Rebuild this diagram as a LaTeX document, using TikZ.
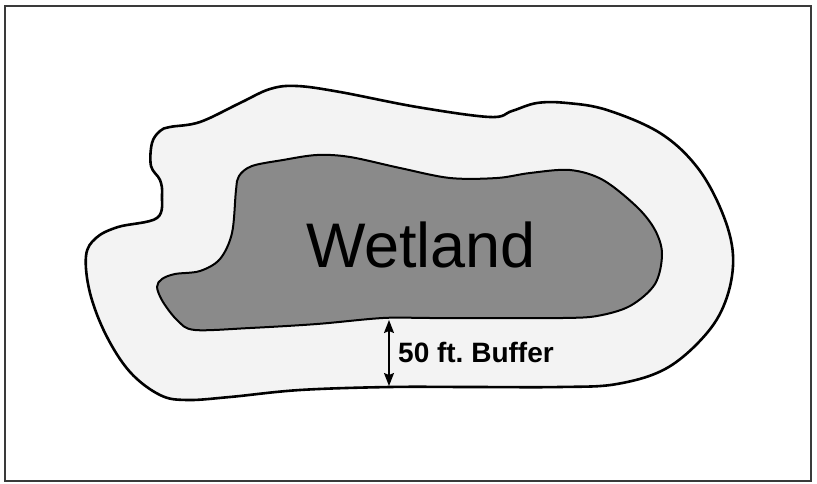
\documentclass[tikz,border=0pt]{standalone}
\usepackage{fontspec}
\setmainfont{Liberation Sans}
\usetikzlibrary{arrows.meta}
\definecolor{bufferfill}{HTML}{F3F3F3}
\definecolor{wetfill}{HTML}{8A8A8A}
\definecolor{framecol}{HTML}{3A3A3A}
\tikzset{
  region/.style={draw=black, line join=round},
  dimarrow/.style={line width=1.6pt, {Stealth[length=13pt,width=10pt,inset=2pt]}-{Stealth[length=13pt,width=10pt,inset=2pt]}},
}
\begin{document}
\frenchspacing
\begin{tikzpicture}[x=1pt,y=-1pt]
\useasboundingbox (0,0) rectangle (817,484);
\draw[framecol, line width=1.6pt] (5,6) rectangle (811,481);
% buffer zone
\draw[region, fill=bufferfill, line width=2.6pt] plot[smooth cycle, tension=0.6] coordinates {
 (170,127) (200,122) (240,103) (270,89) (297,86) (340,92) (417,107) (490,117) (512,111)
 (537,103) (567,103) (607,110) (660,133) (697,167) (722,212) (733,255) (727,297)
 (707,333) (667,368) (617,384) (560,387) (470,387) (390,387) (300,390) (230,397) (187,400)
 (160,395) (130,372) (106,335) (90,293) (86,256) (96,238) (118,227) (157,218) (162,195)
 (160,180) (151,166) (152,143) (160,131)};
% wetland
\draw[region, fill=wetfill, line width=2pt] plot[smooth cycle, tension=0.55] coordinates {
 (239,176) (252,166) (283,160) (317,155) (350,157) (400,168) (450,178) (497,178) (530,173)
 (570,170) (603,180) (637,207) (655,230) (662,254) (655,284) (630,306) (597,316)
 (563,318) (500,318) (430,318) (383,318) (317,324) (250,328) (195,330) (178,321) (163,302)
 (157,287) (162,279) (175,274) (200,271) (220,259) (232,233) (236,190)};
\node (wet) at (421,245) {\fontsize{63}{63}\selectfont Wetland};
\coordinate (wb) at (389,320);
\coordinate (bb) at (389,386);
\draw[dimarrow] (wb) -- (bb);
\node[anchor=base west, inner sep=0pt] (buf) at (398,362) {\fontsize{28}{28}\selectfont\bfseries 50 ft. Buffer};
\end{tikzpicture}
\end{document}
